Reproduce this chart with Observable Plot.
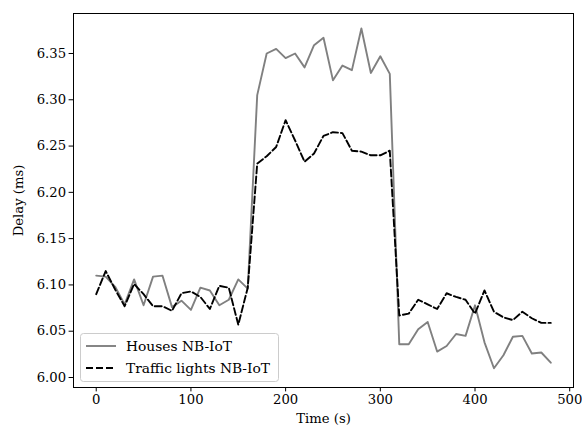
<!DOCTYPE html>
<html>
<head>
<meta charset="utf-8">
<script src="https://cdn.jsdelivr.net/npm/d3@7"></script>
<script src="https://cdn.jsdelivr.net/npm/@observablehq/plot@0.6"></script>
<style>
  html, body { margin: 0; padding: 0; background: #fff; }
  #chart svg { display: block; }
</style>
</head>
<body>
<div id="chart"></div>
<script>
const time = [0,10,20,30,40,50,60,70,80,90,100,110,120,130,140,150,160,170,180,190,200,210,220,230,240,250,260,270,280,290,300,310,320,330,340,350,360,370,380,390,400,410,420,430,440,450,460,470,480];
const houses = [6.110,6.109,6.098,6.079,6.106,6.078,6.109,6.110,6.076,6.083,6.073,6.097,6.094,6.078,6.084,6.106,6.096,6.305,6.350,6.355,6.345,6.350,6.335,6.359,6.367,6.321,6.337,6.332,6.377,6.329,6.347,6.328,6.036,6.036,6.052,6.060,6.028,6.034,6.047,6.045,6.078,6.038,6.010,6.024,6.044,6.045,6.026,6.027,6.016];
const traffic = [6.090,6.115,6.095,6.077,6.101,6.090,6.077,6.077,6.072,6.091,6.093,6.087,6.074,6.099,6.097,6.057,6.097,6.231,6.239,6.249,6.278,6.256,6.233,6.242,6.261,6.265,6.264,6.245,6.244,6.240,6.240,6.245,6.067,6.069,6.084,6.079,6.074,6.091,6.087,6.084,6.069,6.094,6.071,6.065,6.062,6.071,6.064,6.059,6.059];
const seriesNames = ["Houses NB-IoT", "Traffic lights NB-IoT"];
const xTicks = [0,100,200,300,400,500];
const yTicks = [6.00,6.05,6.10,6.15,6.20,6.25,6.30,6.35];

const rowsH = time.map((t, i) => ({t, v: houses[i]}));
const rowsT = time.map((t, i) => ({t, v: traffic[i]}));

const FONT = "DejaVu Serif, serif";

const plot = Plot.plot({
  width: 582,
  height: 427,
  marginLeft: 73,
  marginRight: 9,
  marginTop: 13,
  marginBottom: 40,
  style: {fontFamily: FONT, fontSize: "13.2px", color: "#000", background: "#fff"},
  x: {domain: [-24, 504], ticks: xTicks, tickSize: 4.4, tickPadding: 3, label: "Time (s)", labelAnchor: "center", labelArrow: "none", labelOffset: 35},
  y: {domain: [5.9892, 6.3932], ticks: yTicks, tickFormat: d3.format(".2f"), tickSize: 4.4, tickPadding: 3, label: "Delay (ms)", labelAnchor: "center", labelArrow: "none", labelOffset: 60},
  marks: [
    Plot.line(rowsH, {x: "t", y: "v", stroke: "#808080", strokeWidth: 1.9}),
    Plot.line(rowsT, {x: "t", y: "v", stroke: "#000", strokeWidth: 1.9, strokeDasharray: "7,3"}),
    Plot.frame({stroke: "#000", strokeWidth: 1})
  ]
});

const svg = d3.select(plot);
const lg = svg.append("g").attr("font-family", FONT).attr("font-size", "13.8px").attr("text-anchor", "start");
lg.append("rect").attr("x", 80.5).attr("y", 333.5).attr("width", 198).attr("height", 48)
  .attr("rx", 3).attr("fill", "#fff").attr("fill-opacity", 0.8).attr("stroke", "#cccccc").attr("stroke-width", 1);
const styles = [{stroke: "#808080", dash: null}, {stroke: "#000", dash: "7,3"}];
seriesNames.forEach((name, i) => {
  const y = 346 + i * 22;
  const l = lg.append("line").attr("x1", 86).attr("x2", 116).attr("y1", y).attr("y2", y)
    .attr("stroke", styles[i].stroke).attr("stroke-width", 1.9);
  if (styles[i].dash) l.attr("stroke-dasharray", styles[i].dash);
  lg.append("text").attr("x", 126).attr("y", y).attr("dy", "0.35em").attr("fill", "#000")
    .attr("text-anchor", "start").text(name);
});

document.getElementById("chart").appendChild(plot);
</script>
</body>
</html>
